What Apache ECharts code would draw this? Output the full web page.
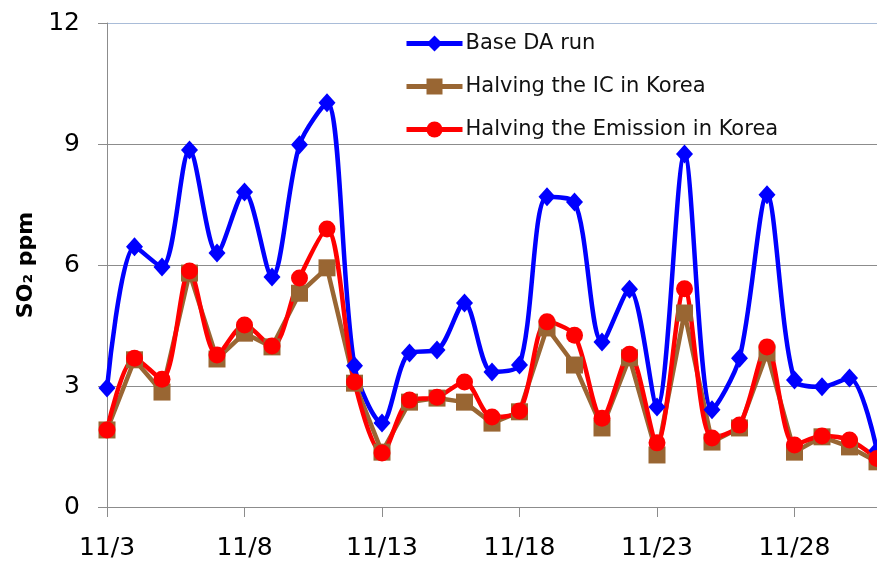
<!DOCTYPE html>
<html>
<head>
<meta charset="utf-8">
<script src="https://cdn.jsdelivr.net/npm/echarts@6/dist/echarts.min.js"></script>
<style>
  html, body { margin: 0; padding: 0; background: #fff; }
  #so2Chart { width: 877px; height: 561px; }
</style>
</head>
<body>
<div id="so2Chart"></div>
<script>
// dates 11/3 .. 12/1
var days = ['11/3','11/4','11/5','11/6','11/7','11/8','11/9','11/10','11/11','11/12',
  '11/13','11/14','11/15','11/16','11/17','11/18','11/19','11/20','11/21','11/22',
  '11/23','11/24','11/25','11/26','11/27','11/28','11/29','11/30','12/1'];

var baseRun = [2.95, 6.45, 5.95, 8.85, 6.3, 7.81, 5.7, 8.98, 10.02, 3.5,
  2.08, 3.82, 3.89, 5.06, 3.35, 3.52, 7.69, 7.56, 4.09, 5.4,
  2.48, 8.75, 2.41, 3.69, 7.74, 3.15, 2.98, 3.2, 1.4];
var halfIC = [1.91, 3.65, 2.85, 5.8, 3.67, 4.31, 3.97, 5.3, 5.93, 3.07,
  1.36, 2.6, 2.7, 2.6, 2.08, 2.36, 4.44, 3.52, 1.96, 3.7,
  1.29, 4.81, 1.61, 1.96, 3.82, 1.36, 1.74, 1.49, 1.12];
var halfEmis = [1.91, 3.69, 3.17, 5.85, 3.77, 4.51, 3.99, 5.68, 6.89, 3.1,
  1.34, 2.65, 2.72, 3.1, 2.23, 2.38, 4.59, 4.26, 2.2, 3.79,
  1.59, 5.41, 1.71, 2.03, 3.97, 1.54, 1.76, 1.66, 1.2];

var seriesNames = ['Base DA run', 'Halving the IC in Korea', 'Halving the Emission in Korea'];

var FONT = 'DejaVu Sans';
var gridColor = '#8c8c8c';

var so2Chart = echarts.init(document.getElementById('so2Chart'));

var option = {
  animation: false,
  backgroundColor: '#fff',
  grid: { left: 107, top: 23, bottom: 54, right: -3 },
  legend: {
    orient: 'vertical',
    left: 404,
    top: 33,
    padding: 0,
    itemWidth: 56,
    itemHeight: 20,
    itemGap: 22,
    data: seriesNames,
    lineStyle: { width: 5 },
    textStyle: { fontFamily: FONT, fontSize: 21, color: '#111', padding: [0, 0, 0, -2] }
  },
  xAxis: {
    type: 'category',
    data: days,
    boundaryGap: false,
    axisLine: { lineStyle: { color: gridColor, width: 1 } },
    axisTick: { interval: 4, length: 10, lineStyle: { color: gridColor } },
    axisLabel: { interval: 4, margin: 29, fontFamily: FONT, fontSize: 25, color: '#000' },
    splitLine: { show: false }
  },
  yAxis: {
    type: 'value',
    min: 0,
    max: 12,
    interval: 3,
    name: 'SO₂ ppm',
    nameLocation: 'middle',
    nameRotate: 90,
    nameGap: 67,
    nameTextStyle: { fontFamily: FONT, fontSize: 22, fontWeight: 'bold', color: '#000' },
    axisLine: { show: true, lineStyle: { color: gridColor, width: 1 } },
    axisTick: { show: true, length: 9, lineStyle: { color: gridColor } },
    axisLabel: { margin: 27, fontFamily: FONT, fontSize: 25, color: '#000' },
    splitLine: { lineStyle: { color: [gridColor, gridColor, gridColor, gridColor, '#a9bcd8'], width: 1 } }
  },
  series: [
    {
      name: seriesNames[0],
      type: 'line',
      data: baseRun,
      smooth: 0.3,
      showAllSymbol: true,
      symbol: 'diamond',
      symbolSize: [17, 19],
      lineStyle: { color: '#0000ff', width: 4.5 },
      itemStyle: { color: '#0000ff' }
    },
    {
      name: seriesNames[1],
      type: 'line',
      data: halfIC,
      smooth: false,
      showAllSymbol: true,
      symbol: 'rect',
      symbolSize: 17,
      lineStyle: { color: '#996633', width: 4.5 },
      itemStyle: { color: '#996633' }
    },
    {
      name: seriesNames[2],
      type: 'line',
      data: halfEmis,
      smooth: 0.3,
      showAllSymbol: true,
      symbol: 'circle',
      symbolSize: 17,
      lineStyle: { color: '#ff0000', width: 4.5 },
      itemStyle: { color: '#ff0000' }
    }
  ]
};

so2Chart.setOption(option);
</script>
</body>
</html>
